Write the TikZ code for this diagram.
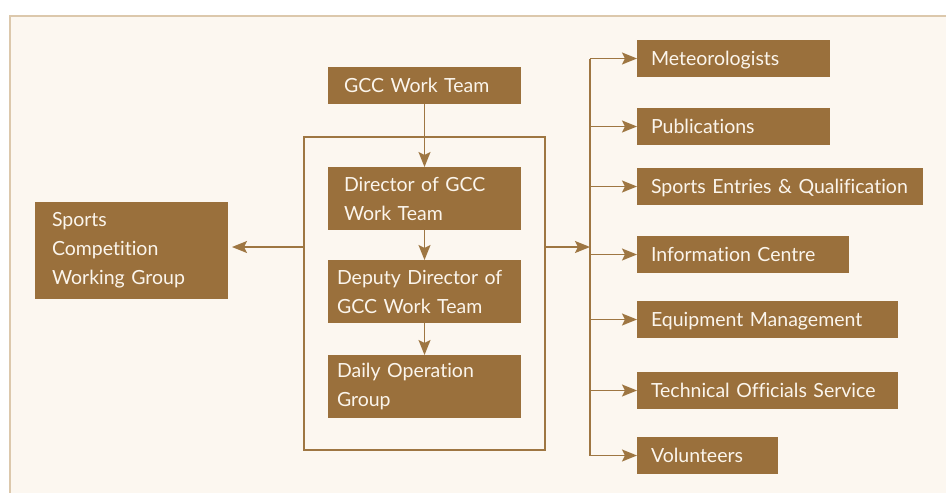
\documentclass[tikz,border=0pt]{standalone}
\usepackage{fontspec}
\setmainfont{Lato}[Ligatures={NoCommon}]
\usetikzlibrary{arrows.meta,calc}
\definecolor{boxfill}{HTML}{9A703C}
\definecolor{panelbg}{HTML}{FCF7F0}
\definecolor{panelline}{HTML}{DCC8AC}
\definecolor{boxtext}{HTML}{FBF5EC}
\definecolor{linecol}{HTML}{9E7642}
\tikzset{
  orgbox/.style={fill=boxfill, draw=none, text=boxtext, anchor=north west,
    font=\fontsize{19.5}{29}\selectfont, align=left, inner ysep=0pt, outer sep=0pt},
  oneline/.style={text height=14pt, text depth=0pt},
  conn/.style={draw=linecol, line width=1.5pt},
  arr/.style={conn, -{Stealth[length=15pt,width=12pt,inset=3pt]}},
}
\newcommand{\obox}[8][]{% opts, name, x, y, w, h, pad, text
  \node[orgbox, #1, minimum width=#5pt, minimum height=#6pt, inner xsep=#7pt,
        text width=#5pt-2*#7pt] (#2) at (#3,#4) {#8};}
\begin{document}
\begin{tikzpicture}[x=1pt,y=-1pt]
\useasboundingbox (0,0) rectangle (946,493);
\fill[white] (0,0) rectangle (946,493);
\fill[panelbg] (10,16) rectangle (946,493);
\draw[panelline, line width=1.5pt] (10,493) -- (10,16) -- (946,16);

% frame
\node[draw=linecol, line width=1.5pt, minimum width=241pt, minimum height=313pt,
      anchor=north west, inner sep=0pt, outer sep=0pt] (frame) at (304,137) {};

% centre column
\obox[oneline]{gcc}{328}{67}{193}{37}{16}{GCC Work Team}
\obox{dir}{328}{167}{193}{63}{16}{Director of GCC\\Work Team}
\obox{dep}{328}{260}{193}{63}{9}{Deputy Director of\\GCC Work Team}
\obox{daily}{328}{355}{193}{63}{9}{Daily Operation\\Group}

% left
\obox{scwg}{35}{202}{193}{97}{17}{Sports\\Competition\\Working Group}

% right
\obox[oneline]{met}{637}{40}{193}{37}{14}{Meteorologists}
\obox[oneline]{pub}{637}{108}{193}{37}{14}{Publications}
\obox[oneline]{spe}{637}{168}{286}{37}{14}{Sports Entries \& Qualification}
\obox[oneline]{inf}{637}{236}{212}{37}{14}{Information Centre}
\obox[oneline]{equ}{637}{301}{261}{37}{14}{Equipment Management}
\obox[oneline]{tec}{637}{372}{261}{37}{14}{Technical Officials Service}
\obox[oneline]{vol}{637}{437}{141}{37}{14}{Volunteers}

% connectors
\draw[arr] (gcc.south) -- (dir.north);
\draw[arr] (dir.south) -- (dep.north);
\draw[arr] (dep.south) -- (daily.north);

\coordinate (mid) at (304,247);
\coordinate (bus) at (590,247);
\draw[arr, shorten >=4pt] (frame.west |- mid) -- (scwg.east |- mid);
\draw[arr] (frame.east |- mid) -- (bus);
\draw[conn] (bus |- met.west) -- (bus |- vol.west);
\foreach \b in {met,pub,spe,inf,equ,tec,vol}
  \draw[arr] (bus |- \b.west) -- (\b.west);
\end{tikzpicture}
\end{document}
